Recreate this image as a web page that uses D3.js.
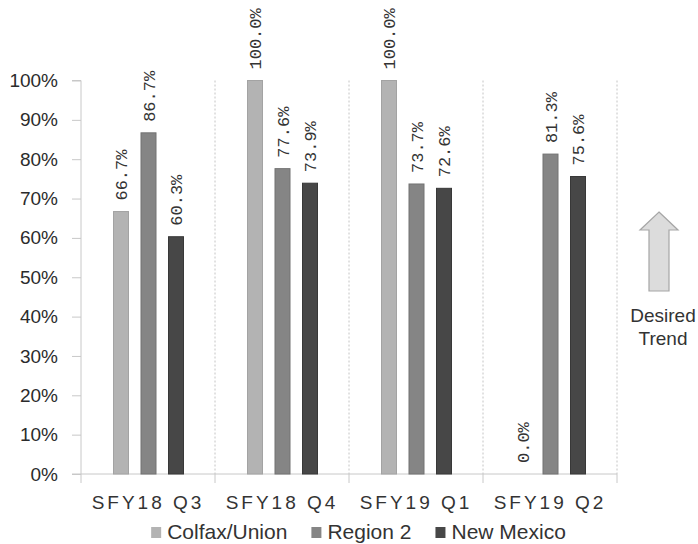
<!DOCTYPE html>
<html>
<head>
<meta charset="utf-8">
<script src="https://cdn.jsdelivr.net/npm/d3@7/dist/d3.min.js"></script>
<style>
  html, body { margin: 0; padding: 0; background: #fff; }
  svg { display: block; }
</style>
</head>
<body>
<svg id="chart" width="698" height="544"></svg>
<script>
const categories = ["SFY18 Q3", "SFY18 Q4", "SFY19 Q1", "SFY19 Q2"];
const seriesNames = ["Colfax/Union", "Region 2", "New Mexico"];
const colfaxUnion = [0.667, 1.000, 1.000, 0.000];
const region2     = [0.867, 0.776, 0.737, 0.813];
const newMexico   = [0.603, 0.739, 0.726, 0.756];
const yTickValues = [0, 0.1, 0.2, 0.3, 0.4, 0.5, 0.6, 0.7, 0.8, 0.9, 1.0];
const seriesColors = ["#b3b3b3", "#858585", "#474747"];
const seriesStrokes = ["#a3a3a3", "#727272", "#383838"];
const annotation = ["Desired", "Trend"];

const seriesValues = [colfaxUnion, region2, newMexico];
const rows = [];
categories.forEach((c, i) => {
  seriesNames.forEach((s, j) => rows.push({ cat: c, series: s, si: j, value: seriesValues[j][i] }));
});

const svg = d3.select("#chart");
const mLeft = 81, mRight = 617, mTop = 80.5, mBottom = 474;

const x = d3.scaleBand().domain(categories).range([mLeft, mRight]).padding(0);
const x1 = d3.scalePoint().domain(seriesNames).range([-27, 28]);
const y = d3.scaleLinear().domain([0, 1]).range([mBottom, mTop]);
const barW = 15;

// vertical dotted separators
const bounds = categories.map(c => x(c) + x.bandwidth());
svg.append("g").selectAll("line").data(bounds).join("line")
  .attr("x1", d => d).attr("x2", d => d)
  .attr("y1", y(1)).attr("y2", y(0))
  .attr("stroke", "#c4c4c4").attr("stroke-width", 1).attr("stroke-dasharray", "2,2");

// y axis
const yAxis = d3.axisLeft(y).tickValues(yTickValues).tickFormat(d3.format(".0%"))
  .tickSize(9).tickPadding(14);
const gy = svg.append("g").attr("transform", `translate(${mLeft},0)`).call(yAxis);
gy.select(".domain").attr("stroke", "#c8c8c8").attr("d", `M-9,${y(1)}H0V${y(0)}`);
gy.selectAll(".tick line").attr("stroke", "#c8c8c8");
gy.selectAll(".tick text").attr("fill", "#2b2b2b")
  .style("font-family", "'Liberation Sans', Arial, sans-serif").style("font-size", "19px");

// x baseline + ticks
const gx = svg.append("g");
gx.append("line").attr("x1", mLeft - 9).attr("x2", mRight).attr("y1", y(0)).attr("y2", y(0))
  .attr("stroke", "#c8c8c8");
gx.selectAll("line.tk").data([mLeft].concat(bounds)).join("line").attr("class", "tk")
  .attr("x1", d => d).attr("x2", d => d).attr("y1", y(0)).attr("y2", y(0) + 9)
  .attr("stroke", "#c8c8c8");
gx.selectAll("text").data(categories).join("text")
  .attr("x", d => x(d) + x.bandwidth() / 2).attr("y", 509)
  .attr("text-anchor", "middle").attr("fill", "#333")
  .style("font-family", "'Liberation Sans', Arial, sans-serif").style("font-size", "19px")
  .style("letter-spacing", "3px")
  .text(d => d);

// bars
svg.append("g").selectAll("rect").data(rows.filter(r => r.value > 0)).join("rect")
  .attr("x", d => x(d.cat) + x.bandwidth() / 2 + x1(d.series) - barW / 2)
  .attr("width", barW)
  .attr("y", d => y(d.value))
  .attr("height", d => y(0) - y(d.value))
  .attr("fill", d => seriesColors[d.si])
  .attr("stroke", d => seriesStrokes[d.si]).attr("stroke-width", 1);

// data labels
svg.append("g").selectAll("text").data(rows).join("text")
  .attr("transform", d => `translate(${x(d.cat) + x.bandwidth() / 2 + x1(d.series) + 6},${y(d.value) - 11}) rotate(-90)`)
  .attr("text-anchor", "start").attr("fill", "#333")
  .style("font-family", "'Liberation Mono', 'DejaVu Sans Mono', monospace").style("font-size", "17px")
  .text(d => d3.format(".1%")(d.value));

// legend
const lg = svg.append("g");
const items = lg.selectAll("g").data(seriesNames).join("g");
items.append("rect").attr("width", 10).attr("height", 11).attr("y", 527)
  .attr("fill", (d, i) => seriesColors[i]);
items.append("text").attr("x", 16).attr("y", 539).attr("fill", "#333")
  .style("font-family", "'Liberation Sans', Arial, sans-serif").style("font-size", "21px")
  .text(d => d);
let cx = 0;
const offs = [];
items.each(function () {
  offs.push(cx);
  const w = d3.select(this).select("text").node().getComputedTextLength();
  cx += 16 + w + 24;
});
const totalW = cx - 24;
const startX = 358.5 - totalW / 2;
items.attr("transform", (d, i) => `translate(${startX + offs[i]},0)`);

// desired trend arrow
const ax = 659;
const arrow = d3.path();
arrow.moveTo(ax, 212); arrow.lineTo(ax + 19, 230); arrow.lineTo(ax + 10, 230);
arrow.lineTo(ax + 10, 291); arrow.lineTo(ax - 10, 291); arrow.lineTo(ax - 10, 230);
arrow.lineTo(ax - 19, 230); arrow.closePath();
svg.append("path").attr("d", arrow.toString()).attr("fill", "#dcdcdc")
  .attr("stroke", "#a6a6a6").attr("stroke-width", 1.2);
svg.append("g").selectAll("text").data(annotation).join("text")
  .attr("x", 663).attr("y", (d, i) => 322 + i * 23)
  .attr("text-anchor", "middle").attr("fill", "#333")
  .style("font-family", "'Liberation Sans', Arial, sans-serif").style("font-size", "19px")
  .text(d => d);
</script>
</body>
</html>
